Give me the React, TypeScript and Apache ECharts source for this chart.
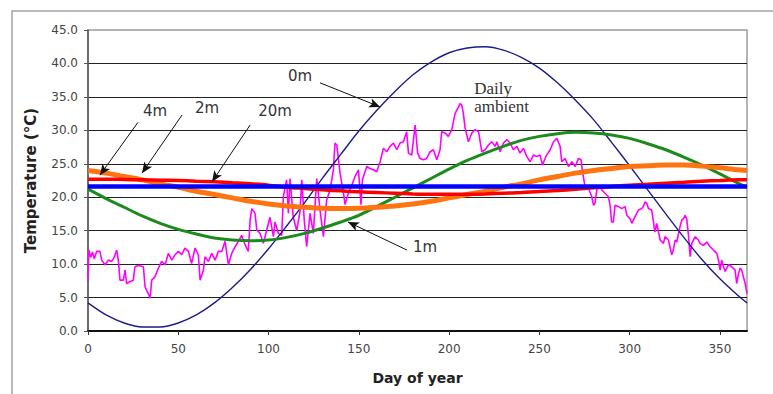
import React, { useEffect, useRef } from "react";
import * as echarts from "echarts";

// Day samples for the smooth soil-temperature curves
const curveDays = [0, 10, 20, 30, 40, 50, 60, 70, 80, 90, 100, 110, 120, 130, 140, 150, 160, 170, 180, 190, 200, 210, 220, 230, 240, 250, 260, 270, 280, 290, 300, 310, 320, 330, 340, 350, 360, 365];

const temp0m = [4.2, 2.4, 1.2, 0.6, 0.6, 1.2, 2.4, 4.2, 6.5, 9.2, 12.3, 15.7, 19.2, 22.9, 26.4, 29.9, 33.0, 35.8, 38.3, 40.2, 41.6, 42.3, 42.5, 42.0, 40.9, 39.3, 37.1, 34.5, 31.6, 28.2, 24.7, 21.1, 17.5, 14.0, 10.7, 7.8, 5.3, 4.2];
const temp1m = [21.2, 19.8, 18.5, 17.2, 16.1, 15.2, 14.5, 13.9, 13.6, 13.5, 13.6, 14.0, 14.6, 15.4, 16.3, 17.3, 18.6, 20.0, 21.4, 22.8, 24.2, 25.5, 26.6, 27.6, 28.5, 29.1, 29.5, 29.7, 29.6, 29.3, 28.8, 28.0, 27.1, 26.0, 24.8, 23.5, 22.1, 21.5];
const temp2m = [24.0, 23.6, 23.1, 22.6, 22.0, 21.5, 20.9, 20.4, 19.9, 19.4, 19.0, 18.7, 18.5, 18.35, 18.3, 18.35, 18.5, 18.7, 19.0, 19.4, 19.9, 20.4, 20.9, 21.5, 22.0, 22.6, 23.1, 23.6, 24.0, 24.3, 24.6, 24.7, 24.8, 24.8, 24.65, 24.4, 24.1, 24.0];
const temp4m = [22.7, 22.7, 22.65, 22.6, 22.55, 22.5, 22.4, 22.3, 22.15, 22.0, 21.8, 21.5, 21.3, 21.1, 20.95, 20.8, 20.7, 20.6, 20.5, 20.45, 20.45, 20.45, 20.5, 20.6, 20.7, 20.85, 21.0, 21.2, 21.4, 21.6, 21.8, 21.95, 22.1, 22.25, 22.4, 22.5, 22.6, 22.6];
const days20m = [0, 365];
const temp20m = [21.6, 21.6];

// Daily ambient air temperature: [day, °C]
const dailyAmbient = [
  [0, 7.6], [0.5, 12.1], [1.5, 11.0], [2.5, 11.8], [3.5, 10.8], [4.8, 11.9], [6.6, 11.9], [7.6, 10.6], [9.4, 9.9], [11.3, 10.6], [13.1, 10.4], [14.5, 11.0], [15.9, 12.1], [16.8, 10.6], [17.7, 7.6], [19.6, 7.6], [20.5, 9.1], [21.4, 7.1], [23.3, 7.4], [25.1, 7.6], [26.0, 9.6], [28.0, 9.8], [30.7, 9.6], [31.6, 6.6], [33.4, 5.6], [34.4, 4.9], [35.3, 7.6], [37.1, 8.1], [39.0, 9.4], [40.8, 10.4], [42.7, 9.9], [44.5, 11.6], [46.4, 10.6], [48.2, 11.4], [50.1, 11.9], [51.9, 11.4], [53.7, 12.4], [55.6, 11.9], [57.4, 10.1], [59.3, 12.4], [61.1, 11.4], [62.1, 7.6], [63.9, 9.1], [64.8, 11.1], [66.7, 10.4], [68.5, 11.6], [70.4, 10.6], [72.2, 11.9], [74.1, 11.9], [75.9, 13.4], [77.8, 9.9], [79.6, 11.6], [81.5, 12.6], [83.3, 13.4], [85.1, 14.3], [87.0, 12.9], [88.8, 11.9], [89.8, 16.6], [90.7, 18.3], [92.5, 17.6], [93.5, 15.1], [95.3, 14.6],
  [97.1, 13.1], [99.0, 15.1], [100.8, 17.0], [102.7, 14.1], [103.6, 16.3], [105.4, 14.6], [107.3, 14.3], [108.2, 20.1], [110.0, 22.6], [111.0, 17.6], [111.9, 22.8], [113.7, 17.0], [115.6, 15.0], [117.4, 17.8], [118.4, 22.6], [119.8, 16.5], [121.1, 12.6], [123.0, 17.6], [124.8, 14.6], [126.7, 22.8], [128.5, 18.1], [130.4, 14.1], [132.2, 19.6], [134.1, 21.1], [135.9, 24.1], [136.8, 28.1], [137.8, 27.8], [139.6, 23.6], [141.4, 20.8], [142.4, 18.9], [144.2, 20.6], [146.1, 21.8], [147.9, 23.1], [149.8, 24.1], [151.2, 18.9], [152.0, 22.6], [154.4, 24.6], [156.2, 24.3], [158.1, 24.1], [159.9, 23.8], [161.8, 25.3], [163.6, 27.3], [165.5, 26.8], [167.3, 27.6], [169.2, 28.1], [171.0, 27.1], [172.8, 28.1], [174.7, 28.3], [176.5, 29.8], [177.5, 26.6], [179.3, 26.3], [181.2, 30.8], [182.6, 26.6], [183.9, 25.8], [185.8, 25.6], [187.6, 25.8], [189.5, 26.8], [191.3, 27.1],
  [193.2, 25.6], [195.0, 27.1], [195.9, 29.8], [197.8, 29.6], [199.6, 29.1], [201.5, 30.1], [203.3, 32.5], [205.2, 33.5], [206.1, 34.0], [207.0, 33.8], [207.9, 32.5], [208.9, 30.3], [210.7, 28.3], [212.6, 29.6], [214.4, 30.1], [216.3, 29.8], [218.1, 26.8], [220.0, 27.1], [221.8, 27.8], [223.6, 28.3], [225.5, 27.6], [226.4, 28.3], [228.3, 26.8], [230.1, 28.1], [232.0, 28.6], [233.8, 28.1], [235.6, 27.1], [237.5, 27.6], [239.3, 26.6], [241.2, 27.3], [243.0, 26.1], [244.9, 25.3], [246.7, 26.3], [248.6, 26.1], [250.4, 26.3], [251.7, 24.8], [253.6, 26.1], [256.0, 27.1], [257.8, 28.3], [259.7, 28.8], [261.5, 27.6], [262.4, 25.3], [264.3, 25.8], [266.1, 24.6], [268.0, 25.3], [269.8, 24.6], [271.7, 25.8], [273.1, 25.6], [273.9, 23.8],
  [275.3, 21.6], [277.2, 21.3], [279.0, 20.1], [280.0, 18.8], [280.8, 19.1], [281.8, 21.1], [283.6, 21.6], [284.5, 21.1], [286.4, 20.6], [288.2, 20.1], [289.2, 18.8], [290.0, 16.3], [291.0, 16.3], [291.9, 18.8], [293.8, 18.6], [295.6, 18.3], [297.5, 18.6], [298.4, 17.3], [300.2, 16.8], [301.2, 16.1], [303.0, 17.1], [304.9, 18.1], [306.7, 18.3], [307.6, 18.6], [308.5, 19.3], [309.5, 19.1], [310.4, 18.3], [312.2, 18.1], [313.2, 16.3], [314.0, 14.8], [315.0, 16.1], [316.9, 13.6], [318.7, 13.1], [319.6, 14.1], [321.5, 13.6], [323.3, 11.4], [324.2, 12.1], [325.2, 13.6], [326.1, 13.3], [327.9, 15.6], [328.9, 16.6], [329.8, 16.8], [330.7, 17.3], [331.6, 16.8], [332.6, 14.3], [333.5, 11.1], [334.4, 13.1], [335.3, 13.6], [336.3, 14.1], [338.1, 13.6], [339.0, 13.1], [340.9, 12.8], [342.7, 13.3], [344.6, 12.6], [346.4, 12.1], [348.3, 11.6], [349.2, 10.6], [350.1, 9.1], [351.0, 10.6], [352.0, 9.6], [352.9, 8.9], [354.7, 9.9], [356.6, 9.6], [358.4, 9.1], [359.3, 7.1], [360.3, 8.6], [361.2, 9.4], [362.1, 9.1], [363.0, 8.1], [364.0, 7.1], [365.0, 5.6],
];

// Annotations: label, label centre, arrow start and arrow tip (data coordinates)
const annotationLabels = ["0m", "4m", "2m", "20m", "1m"];
const annotationText = [[117.5, 38.1], [37.1, 32.9], [65.9, 33.3], [103.6, 32.9], [186.7, 12.6]];
const annotationFrom = [[128.5, 37.1], [27.7, 31.2], [52.1, 32.3], [89.8, 30.8], [176.7, 12.1]];
const annotationTo = [[161.8, 33.5], [6.6, 23.3], [29.9, 23.6], [68.7, 22.3], [144.0, 16.3]];
const ambientLabel = "Daily\nambient";
const ambientLabelPos = [213.9, 37.6];

const xTicks = { min: 0, max: 365, interval: 50 };
const yTicks = { min: 0, max: 45, interval: 5 };

const pair = (vals: number[]) => curveDays.map((d, i) => [d, vals[i]]);

export default function App() {
  const ref = useRef<HTMLDivElement>(null);
  useEffect(() => {
    if (!ref.current) return;
    const chart = echarts.init(ref.current, null, { renderer: "svg" });
    const lineBase = { type: "line", showSymbol: false, symbol: "none", silent: true };
    const option: any = {
      animation: false,
      backgroundColor: "#ffffff",
      grid: { left: 88, right: 26, top: 30, bottom: 63, show: true, borderColor: "#9c9c9c", borderWidth: 1.5, backgroundColor: "transparent" },
      xAxis: {
        type: "value", ...xTicks,
        axisLine: { show: true, onZero: false, lineStyle: { color: "#111", width: 2 } },
        axisTick: { show: true, length: 4, lineStyle: { color: "#333" } },
        axisLabel: { color: "#444", fontSize: 12, fontFamily: "DejaVu Sans", margin: 12, showMaxLabel: false },
        splitLine: { show: false },
        name: "Day of year", nameLocation: "middle", nameGap: 40,
        nameTextStyle: { fontWeight: "bold", fontSize: 14, color: "#222", fontFamily: "DejaVu Sans" },
      },
      yAxis: {
        type: "value", ...yTicks,
        axisLine: { show: true, lineStyle: { color: "#555", width: 1.5 } },
        axisTick: { show: true, length: 4, lineStyle: { color: "#555" } },
        axisLabel: { color: "#444", fontSize: 12, fontFamily: "DejaVu Sans", margin: 10, formatter: (v: number) => v.toFixed(1) },
        splitLine: { show: true, showMinLine: false, showMaxLine: false, lineStyle: { color: "#222", width: 1 } },
        name: "Temperature (°C)", nameLocation: "middle", nameGap: 50, nameRotate: 90,
        nameTextStyle: { fontWeight: "bold", fontSize: 15, color: "#222", fontFamily: "DejaVu Sans" },
      },
      series: [
        { ...lineBase, name: "Daily ambient", data: dailyAmbient, lineStyle: { color: "#ff00ff", width: 1.6 } },
        {
          ...lineBase, name: "0m", data: pair(temp0m), smooth: 0.3, lineStyle: { color: "#1c1c8c", width: 1.4 },
          markLine: {
            silent: true, symbol: ["none", "arrow"], symbolSize: [7, 11], animation: false,
            lineStyle: { color: "#111", width: 1, type: "solid" }, label: { show: false },
            data: annotationFrom.map((f, i) => [{ coord: f }, { coord: annotationTo[i] }]),
          },
        },
        { ...lineBase, name: "1m", data: pair(temp1m), smooth: 0.3, lineStyle: { color: "#1d8a1d", width: 3 } },
        { ...lineBase, name: "2m", data: pair(temp2m), smooth: 0.3, lineStyle: { color: "#ff7410", width: 5 } },
        { ...lineBase, name: "4m", data: pair(temp4m), smooth: 0.3, lineStyle: { color: "#ff0000", width: 3.5 } },
        { ...lineBase, name: "20m", data: days20m.map((d, i) => [d, temp20m[i]]), lineStyle: { color: "#0000ff", width: 4.5 } },
      ],
    };
    chart.setOption(option);

    const graphics: any[] = [
      { type: "rect", shape: { x: 12, y: 11, width: 800, height: 420 }, style: { fill: "none", stroke: "#a3a3a3", lineWidth: 1.5 }, silent: true, z: 100 },
    ];
    annotationLabels.forEach((t, i) => {
      const p = chart.convertToPixel({ gridIndex: 0 }, annotationText[i]) as number[];
      graphics.push({
        type: "text", x: p[0], y: p[1], silent: true, z: 100,
        style: { text: t, fill: "#333", font: "15px 'DejaVu Sans'", align: "center", verticalAlign: "middle" },
      });
    });
    const ap = chart.convertToPixel({ gridIndex: 0 }, ambientLabelPos) as number[];
    graphics.push({
      type: "text", x: ap[0], y: ap[1], silent: true, z: 100,
      style: { text: ambientLabel, fill: "#333", font: "17px 'Liberation Serif'", lineHeight: 18, align: "left", verticalAlign: "top" },
    });
    chart.setOption({ graphic: graphics });

    return () => chart.dispose();
  }, []);
  return <div ref={ref} style={{ position: "absolute", left: 0, top: 0, width: 773, height: 394 }} />;
}
